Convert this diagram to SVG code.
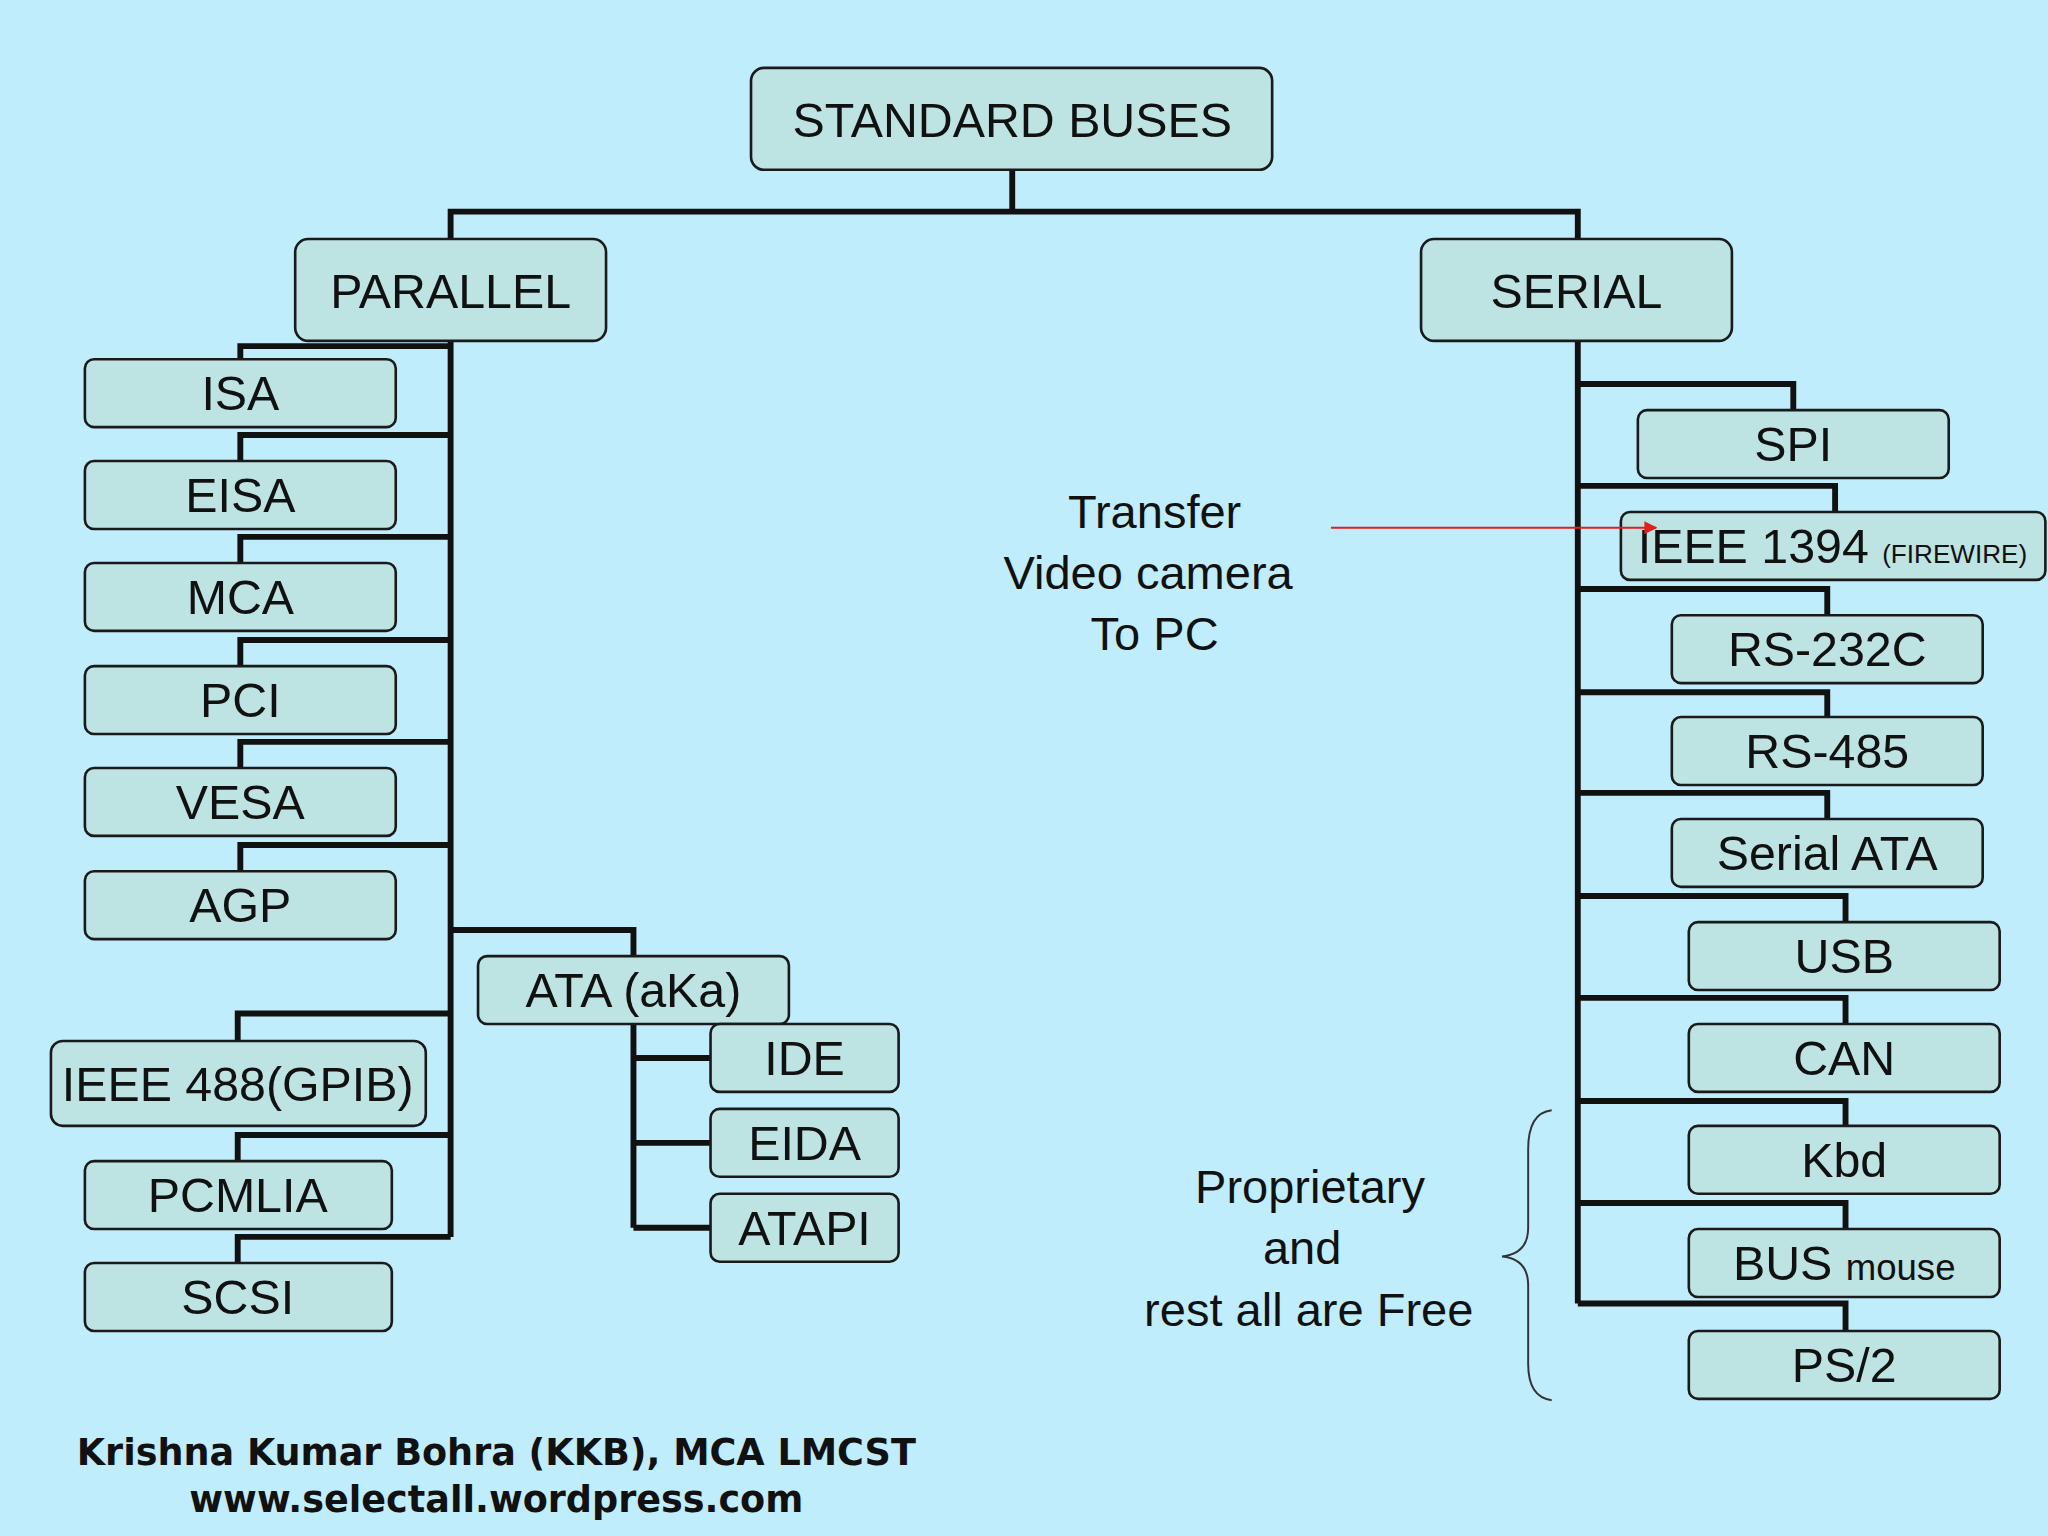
<svg xmlns="http://www.w3.org/2000/svg" width="2048" height="1536" viewBox="0 0 2048 1536">
<style>
.b{fill:#bde3e3;stroke:#1a1a1a;stroke-width:2}
.t{font-family:"Liberation Sans",Arial,sans-serif;font-size:37px;fill:#111;text-anchor:middle}
.c{fill:none;stroke:#111;stroke-width:4.5}
.n{font-family:"Liberation Sans",Arial,sans-serif;font-size:36px;fill:#111;text-anchor:middle}
.f{font-family:"DejaVu Sans",Verdana,sans-serif;font-weight:bold;font-size:28px;fill:#111;text-anchor:middle}
</style>
<defs><marker id="ar" markerWidth="10" markerHeight="10" refX="9" refY="5" orient="auto" markerUnits="userSpaceOnUse"><path d="M0,0L10,5L0,10z" fill="#e02020"/></marker></defs>
<rect width="2048" height="1536" fill="#c0edfb"/>
<g transform="scale(1.30612)">
<g id="connectors" class="c">
<path d="M775,130V162M345,183V162H1208V183"/>
<path d="M345,261V947"/>
<path d="M184,275V265H345M184,353V333H345M184,431V411H345M184,510V490H345M184,588V568H345M184,667V647H345"/>
<path d="M345,712H485V732M485,784V940M485,810H544M485,875H544M485,940H544"/>
<path d="M182,797V776H345M182,889V869H345M182,967V947H345"/>
<path d="M1208,261V998"/>
<path d="M1208,294H1373V314M1208,372H1405V392M1208,451H1399V471M1208,530H1399V549M1208,607H1399V627M1208,686H1413V706M1208,764H1413V784M1208,843H1413V862M1208,921H1413V941M1208,998H1413V1019"/>
</g>
<g id="root"><rect class="b" x="575" y="52" width="399" height="78" rx="10"/><text class="t" x="775" y="105">STANDARD BUSES</text></g>
<g id="parallel"><rect class="b" x="226" y="183" width="238" height="78" rx="10"/><text class="t" x="345" y="236">PARALLEL</text></g>
<g id="serial"><rect class="b" x="1088" y="183" width="238" height="78" rx="10"/><text class="t" x="1207" y="236">SERIAL</text></g>
<g id="isa"><rect class="b" x="65" y="275" width="238" height="52" rx="7"/><text class="t" x="184" y="314">ISA</text></g>
<g id="eisa"><rect class="b" x="65" y="353" width="238" height="52" rx="7"/><text class="t" x="184" y="392">EISA</text></g>
<g id="mca"><rect class="b" x="65" y="431" width="238" height="52" rx="7"/><text class="t" x="184" y="470">MCA</text></g>
<g id="pci"><rect class="b" x="65" y="510" width="238" height="52" rx="7"/><text class="t" x="184" y="549">PCI</text></g>
<g id="vesa"><rect class="b" x="65" y="588" width="238" height="52" rx="7"/><text class="t" x="184" y="627">VESA</text></g>
<g id="agp"><rect class="b" x="65" y="667" width="238" height="52" rx="7"/><text class="t" x="184" y="706">AGP</text></g>
<g id="ata"><rect class="b" x="366" y="732" width="238" height="52" rx="7"/><text class="t" x="485" y="771">ATA (aKa)</text></g>
<g id="ide"><rect class="b" x="544" y="784" width="144" height="52" rx="7"/><text class="t" x="616" y="823">IDE</text></g>
<g id="eida"><rect class="b" x="544" y="849" width="144" height="52" rx="7"/><text class="t" x="616" y="888">EIDA</text></g>
<g id="atapi"><rect class="b" x="544" y="914" width="144" height="52" rx="7"/><text class="t" x="616" y="953">ATAPI</text></g>
<g id="ieee488"><rect class="b" x="39" y="797" width="287" height="65" rx="9"/><text class="t" x="182" y="843">IEEE 488(GPIB)</text></g>
<g id="pcmlia"><rect class="b" x="65" y="889" width="235" height="52" rx="7"/><text class="t" x="182" y="928">PCMLIA</text></g>
<g id="scsi"><rect class="b" x="65" y="967" width="235" height="52" rx="7"/><text class="t" x="182" y="1006">SCSI</text></g>
<g id="spi"><rect class="b" x="1254" y="314" width="238" height="52" rx="7"/><text class="t" x="1373" y="353">SPI</text></g>
<g id="ieee1394"><rect class="b" x="1241" y="392" width="325" height="52" rx="7"/><text class="t" x="1403" y="431"><tspan>IEEE 1394 </tspan><tspan font-size="20">(FIREWIRE)</tspan></text></g>
<g id="rs232"><rect class="b" x="1280" y="471" width="238" height="52" rx="7"/><text class="t" x="1399" y="510">RS-232C</text></g>
<g id="rs485"><rect class="b" x="1280" y="549" width="238" height="52" rx="7"/><text class="t" x="1399" y="588">RS-485</text></g>
<g id="sata"><rect class="b" x="1280" y="627" width="238" height="52" rx="7"/><text class="t" x="1399" y="666">Serial ATA</text></g>
<g id="usb"><rect class="b" x="1293" y="706" width="238" height="52" rx="7"/><text class="t" x="1412" y="745">USB</text></g>
<g id="can"><rect class="b" x="1293" y="784" width="238" height="52" rx="7"/><text class="t" x="1412" y="823">CAN</text></g>
<g id="kbd"><rect class="b" x="1293" y="862" width="238" height="52" rx="7"/><text class="t" x="1412" y="901">Kbd</text></g>
<g id="busmouse"><rect class="b" x="1293" y="941" width="238" height="52" rx="7"/><text class="t" x="1412" y="980"><tspan>BUS </tspan><tspan font-size="28">mouse</tspan></text></g>
<g id="ps2"><rect class="b" x="1293" y="1019" width="238" height="52" rx="7"/><text class="t" x="1412" y="1058">PS/2</text></g>
<g id="note1"><text class="n" x="884" y="404">Transfer</text><text class="n" x="879" y="451">Video camera</text><text class="n" x="884" y="498">To PC</text>
<line x1="1019" y1="404" x2="1268" y2="404" stroke="#e02020" stroke-width="1.5" marker-end="url(#ar)"/></g>
<g id="note2"><text class="n" x="1003" y="921">Proprietary</text><text class="n" x="997" y="968">and</text><text class="n" x="1002" y="1015">rest all are Free</text>
<path d="M1188,850Q1170,852 1170,880V940Q1170,960 1150,962Q1170,964 1170,984V1044Q1170,1070 1188,1072" fill="none" stroke="#333" stroke-width="1.5"/></g>
<g id="footer"><text class="f" x="380" y="1122">Krishna Kumar Bohra (KKB), MCA LMCST</text><text class="f" x="380" y="1158">www.selectall.wordpress.com</text></g>
</g>
</svg>
